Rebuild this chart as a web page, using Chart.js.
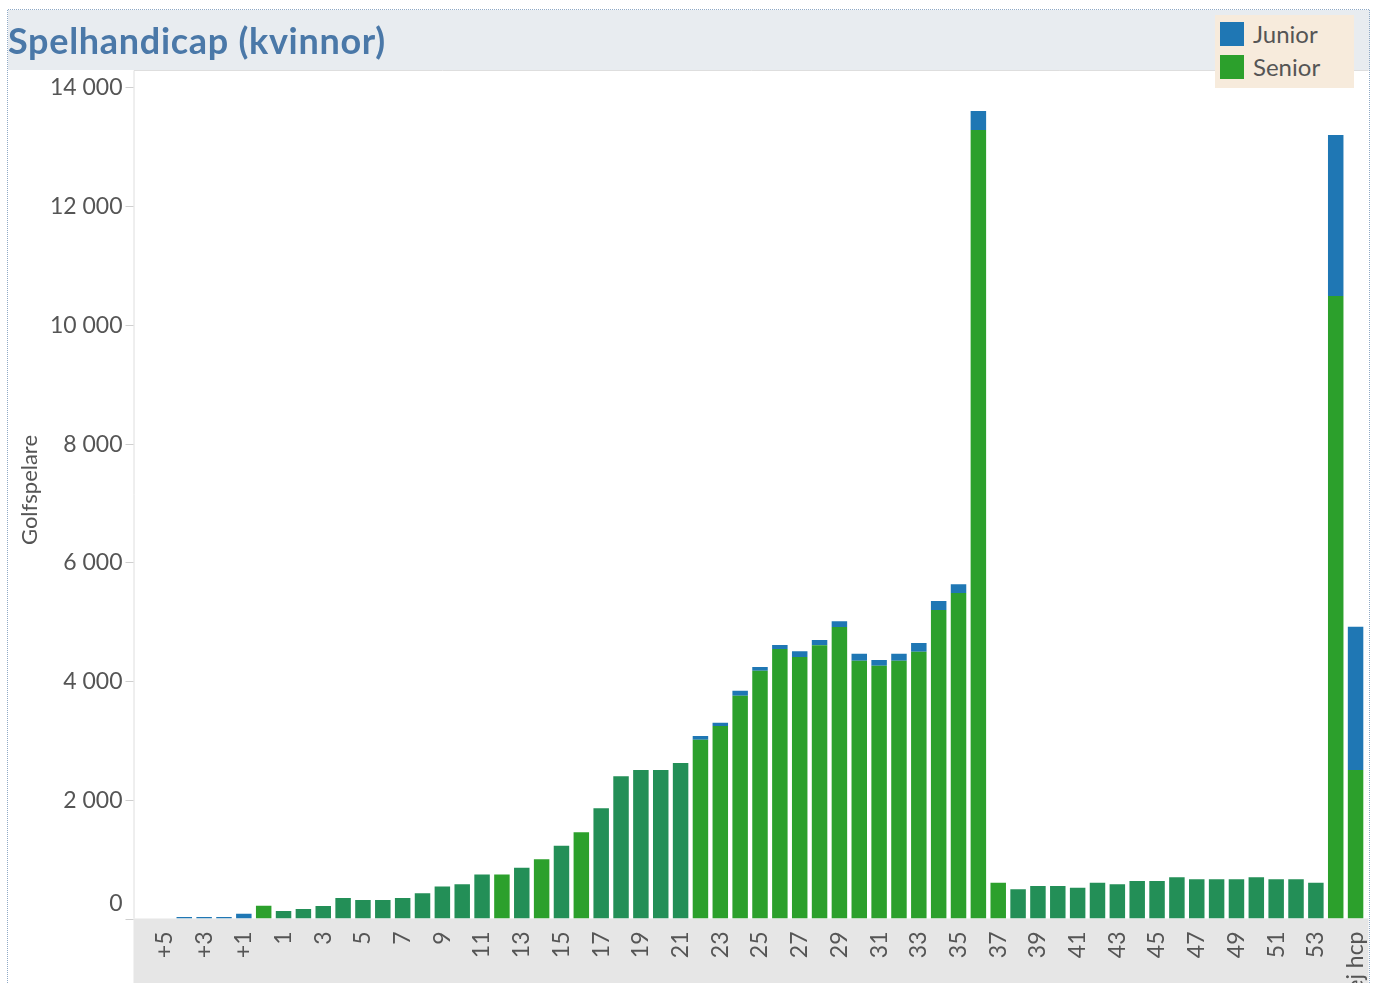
<!DOCTYPE html>
<html>
<head>
<meta charset="utf-8">
<script src="https://cdn.jsdelivr.net/npm/chart.js@4.4.1/dist/chart.umd.min.js"></script>
<style>
    body { margin: 0; background: #fff; }
    #wrap { position: relative; width: 1375px; height: 983px; overflow: hidden; }
    #title {
        position: absolute; left: 8px; top: 20px;
        font: 700 36px 'Lato', sans-serif; color: #4a78a8; line-height: 40px;
        letter-spacing: 0.7px; white-space: nowrap;
    }
    #legend {
        position: absolute; left: 1215px; top: 15px; width: 139px; height: 73px;
        background: #f7ebdc; font: 24px 'Lato', sans-serif; color: #555;
    }
    .legend-item { position: absolute; left: 5px; height: 26px; line-height: 26px; }
    .legend-item span { display: inline-block; width: 24px; height: 24px; vertical-align: top; margin: 1px 9px 0 0; }
</style>
</head>
<body>
<div id="wrap">
    <canvas id="chart" width="1375" height="983"></canvas>
    <div id="title">Spelhandicap (kvinnor)</div>
    <div id="legend">
        <div class="legend-item" style="top: 6px;"><span style="background: #1f77b4;"></span>Junior</div>
        <div class="legend-item" style="top: 39px;"><span style="background: #2ca02c;"></span>Senior</div>
    </div>
</div>
<script>
// Handicap categories, read left to right
const categories = [
    '+5', '+4', '+3', '+2', '+1', '0',
    '1', '2', '3', '4', '5', '6', '7', '8', '9', '10',
    '11', '12', '13', '14', '15', '16', '17', '18', '19', '20',
    '21', '22', '23', '24', '25', '26', '27', '28', '29', '30',
    '31', '32', '33', '34', '35', '36', '37', '38', '39', '40',
    '41', '42', '43', '44', '45', '46', '47', '48', '49', '50',
    '51', '52', '53', '54', 'ej hcp'
];

const seniorValues = [
    0, 0, 0, 0, 0, 215,
    126, 160, 210, 345, 310, 310, 345, 425, 540, 575,
    740, 740, 855, 997, 1226, 1452, 1856, 2395, 2502, 2502,
    2620, 3012, 3243, 3753, 4175, 4540, 4405, 4602, 4911, 4343,
    4259, 4343, 4495, 5197, 5483, 13283, 603, 492, 548, 548,
    519, 603, 576, 632, 632, 694, 660, 660, 660, 694,
    660, 660, 603, 10487, 2502
];

const juniorValues = [
    0, 25, 25, 25, 80, 0,
    0, 0, 0, 0, 0, 0, 0, 0, 0, 0,
    0, 0, 0, 0, 0, 0, 0, 0, 0, 0,
    0, 63, 56, 85, 62, 67, 96, 90, 96, 118,
    96, 118, 146, 152, 147, 320, 0, 0, 0, 0,
    0, 0, 0, 0, 0, 0, 0, 0, 0, 0,
    0, 0, 0, 2712, 2414
];

// Only every other label is shown on the x axis
const shownLabels = [
    '+5', '+3', '+1', '1', '3', '5', '7', '9', '11', '13', '15', '17', '19', '21',
    '23', '25', '27', '29', '31', '33', '35', '37', '39', '41', '43', '45', '47',
    '49', '51', '53', 'ej hcp'
];

const yTicks = [0, 2000, 4000, 6000, 8000, 10000, 12000, 14000];

// Bars drawn in the lighter green (the rest use the darker teal green)
const brightBars = ['0', '12', '14', '16', '22', '23', '24', '25', '26', '27', '28', '29',
    '30', '31', '32', '33', '34', '35', '36', '37', '54', 'ej hcp'];

const FONT = "'Lato', sans-serif";

function formatThousands(v) {
    return String(v).replace(/\B(?=(\d{3})+(?!\d))/g, ' ');
}

const backdrop = {
    id: 'backdrop',
    beforeDraw(chart) {
        const { ctx, chartArea, width, height } = chart;
        const left = chartArea.left - 21;
        const right = chartArea.right + 3;
        const top = chartArea.top - 2;
        ctx.save();
        ctx.fillStyle = '#fff';
        ctx.fillRect(0, 0, width, height);
        // header band
        ctx.fillStyle = '#e8ecf0';
        ctx.fillRect(8, 10, 1362, top - 10);
        // plot area
        ctx.fillStyle = '#fff';
        ctx.fillRect(left, top, right - left, chartArea.bottom - top);
        ctx.strokeStyle = '#dedede';
        ctx.lineWidth = 1;
        ctx.beginPath();
        ctx.moveTo(left + 0.5, chartArea.bottom);
        ctx.lineTo(left + 0.5, top + 0.5);
        ctx.lineTo(right, top + 0.5);
        ctx.stroke();
        // x axis band
        ctx.fillStyle = '#e6e6e6';
        ctx.fillRect(left, chartArea.bottom, right - left, height - chartArea.bottom);
        // dotted frame
        ctx.strokeStyle = '#8fa9c6';
        ctx.setLineDash([1, 1]);
        ctx.beginPath();
        ctx.moveTo(7.5, height);
        ctx.lineTo(7.5, 9.5);
        ctx.lineTo(1369.5, 9.5);
        ctx.lineTo(1369.5, height);
        ctx.stroke();
        ctx.restore();
    },
    afterDraw(chart) {
        const { ctx, chartArea } = chart;
        const yScale = chart.scales.y;
        const left = chartArea.left - 21;
        ctx.save();
        ctx.font = `23px ${FONT}`;
        ctx.fillStyle = '#555';
        ctx.textAlign = 'right';
        ctx.textBaseline = 'middle';
        yTicks.forEach(v => {
            const y = Math.round(yScale.getPixelForValue(v)) + 0.5;
            ctx.strokeStyle = '#cfcfcf';
            ctx.beginPath();
            ctx.moveTo(left - 8, y);
            ctx.lineTo(left, y);
            ctx.stroke();
            ctx.fillText(formatThousands(v), left - 11, v === 0 ? y - 16 : y);
        });
        // y axis title
        ctx.translate(30, 490);
        ctx.rotate(-Math.PI / 2);
        ctx.textAlign = 'center';
        ctx.font = `22px ${FONT}`;
        ctx.fillText('Golfspelare', 0, 0);
        ctx.restore();
    }
};

const seniorColors = categories.map(c => brightBars.includes(c) ? '#2ca02c' : '#238f57');

new Chart(document.getElementById('chart'), {
    type: 'bar',
    data: {
        labels: categories,
        datasets: [
            {
                label: 'Senior',
                data: seniorValues,
                backgroundColor: seniorColors,
                borderWidth: 0,
                barPercentage: 0.78,
                categoryPercentage: 1
            },
            {
                label: 'Junior',
                data: juniorValues,
                backgroundColor: '#1f77b4',
                borderWidth: 0,
                barPercentage: 0.78,
                categoryPercentage: 1
            }
        ]
    },
    options: {
        responsive: false,
        animation: false,
        devicePixelRatio: 1,
        layout: {
            padding: { left: 154.5, right: 9.5, top: 72, bottom: 0 }
        },
        plugins: {
            legend: { display: false },
            tooltip: { enabled: false }
        },
        scales: {
            x: {
                stacked: true,
                grid: { display: false },
                border: { display: false },
                ticks: {
                    autoSkip: false,
                    maxRotation: 90,
                    minRotation: 90,
                    padding: 5,
                    color: '#555',
                    font: { size: 23, family: FONT },
                    callback: function (value) {
                        const label = this.getLabelForValue(value);
                        return shownLabels.includes(label) ? label : '';
                    }
                },
                afterFit: (scale) => {
                    scale.height = 64.5;
                    scale.paddingLeft = 0;
                    scale.paddingRight = 0;
                }
            },
            y: {
                stacked: true,
                min: 0,
                max: 14260,
                grid: { display: false },
                border: { display: false },
                ticks: { display: false, stepSize: 2000, includeBounds: false },
                afterFit: (scale) => { scale.width = 0; }
            }
        }
    },
    plugins: [backdrop]
});
</script>
</body>
</html>
